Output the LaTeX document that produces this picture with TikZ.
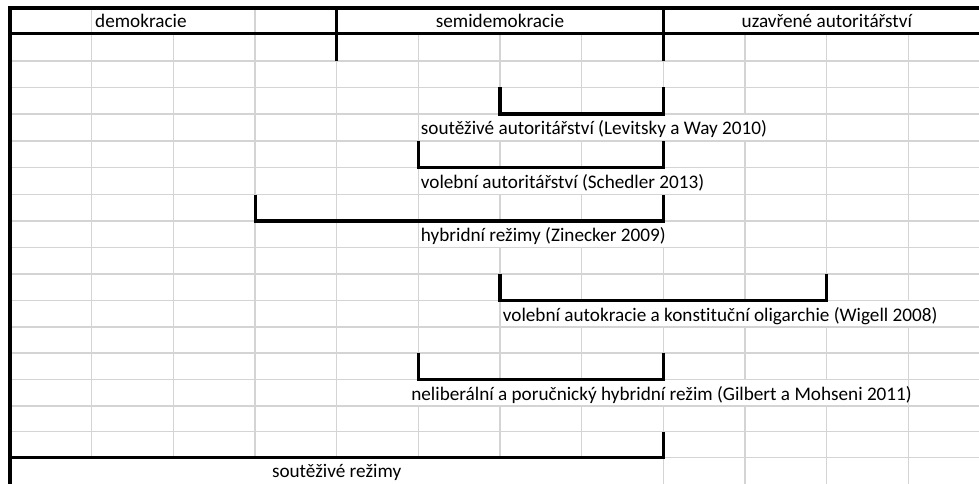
\documentclass[tikz,border=0pt]{standalone}
\usepackage{fontspec}
\setmainfont{Carlito}[Ligatures=NoCommon]
\definecolor{gridc}{RGB}{212,212,212}
\begin{document}
\begin{tikzpicture}[x=1pt,y=-1pt,
  gridline/.style={draw=gridc,line width=1.3pt},
  borderline/.style={draw=black,line width=3.2pt,line join=miter},
  bracketline/.style={draw=black,line width=3.2pt,line join=miter},
  lbl/.style={inner sep=0pt,font=\fontsize{19.2}{22}\selectfont}]
\useasboundingbox (0,0) rectangle (979,484);
% horizontal grid lines
\foreach \y in {61,87.5,114,141,167.5,194.5,221,247.5,274,300.5,327,353,379.5,406,431.5}
  \draw[gridline] (10,\y) -- (979,\y);
\draw[gridline] (663.4,457.5) -- (979,457.5);
% vertical grid lines
\foreach \x/\a/\b in {
  91.7/8/33.5, 91.7/33.5/457.5,
  173.4/33.5/457.5,
  255.1/8/33.5, 255.1/33.5/457.5,
  336.6/61/457.5,
  418.3/33.5/379.5, 418.3/406/457.5,
  500/33.5/114, 500/141/167.5, 500/194.5/221, 500/247.5/379.5, 500/406/457.5,
  581.7/33.5/114, 581.7/141/167.5, 581.7/194.5/221, 581.7/247.5/300.5, 581.7/327/379.5, 581.7/406/457.5,
  663.4/61/114, 663.4/141/167.5, 663.4/194.5/221, 663.4/247.5/300.5, 663.4/327/379.5, 663.4/406/484,
  745.1/33.5/114, 745.1/141/300.5, 745.1/327/379.5, 745.1/406/484,
  826.8/33.5/300.5, 826.8/327/379.5, 826.8/406/484,
  908.5/33.5/300.5, 908.5/327/484}
  \draw[gridline] (\x,\a) -- (\x,\b);
% header borders
\draw[borderline] (10,8) -- (979,8);
\draw[borderline] (10,33.5) -- (979,33.5);
\draw[borderline] (10,6.4) -- (10,484);
\draw[borderline] (336.6,8) -- (336.6,61);
\draw[borderline] (663.4,8) -- (663.4,61);
% brackets
\draw[bracketline] (500,87.5) -- (500,114) -- (663.4,114) -- (663.4,87.5);
\draw[bracketline] (418.3,141) -- (418.3,167.5) -- (663.4,167.5) -- (663.4,141);
\draw[bracketline] (255.1,194.5) -- (255.1,221) -- (663.4,221) -- (663.4,194.5);
\draw[bracketline] (500,274) -- (500,300.5) -- (826.8,300.5) -- (826.8,274);
\draw[bracketline] (418.3,353) -- (418.3,379.5) -- (663.4,379.5) -- (663.4,353);
\draw[bracketline] (10,431.5) -- (10,457.5) -- (663.4,457.5) -- (663.4,431.5);
% header texts
\node[lbl,anchor=base west] (dem) at (95,28) {demokracie};
\node[lbl,anchor=base] (semi) at (500,28) {semidemokracie};
\node[lbl,anchor=base] (uzav) at (826.8,28) {uzavřené autoritářství};
% labels
\node[lbl,anchor=base west] (sa) at (420.7,135) {soutěživé autoritářství (Levitsky a Way 2010)};
\node[lbl,anchor=base west] (va) at (420.7,188.5) {volební autoritářství (Schedler 2013)};
\node[lbl,anchor=base west] (hr) at (420.7,241.5) {hybridní režimy (Zinecker 2009)};
\node[lbl,anchor=base west] (vak) at (502.7,321) {volební autokracie a konstituční oligarchie (Wigell 2008)};
\node[lbl,anchor=base] (nph) at (661.6,400) {neliberální a poručnický hybridní režim (Gilbert a Mohseni 2011)};
\node[lbl,anchor=base] (sr) at (336.6,477) {soutěživé režimy};
\end{tikzpicture}
\end{document}
